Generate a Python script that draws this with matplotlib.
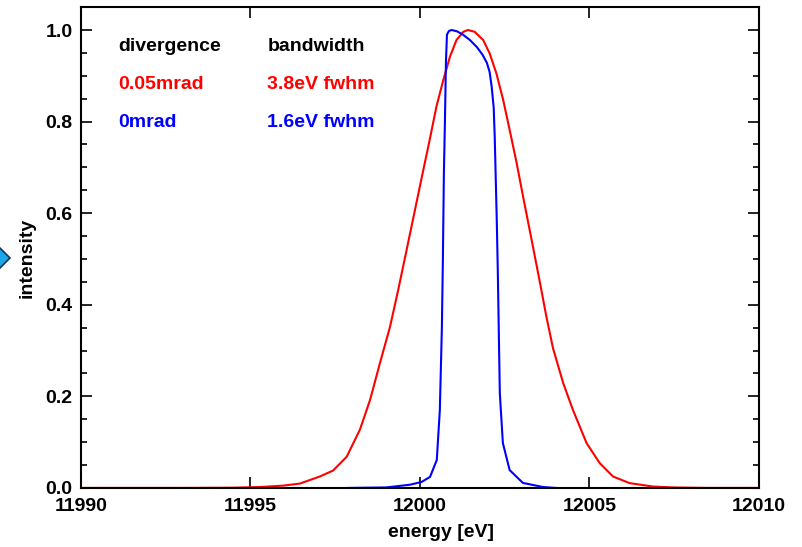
import matplotlib.pyplot as plt
from matplotlib.patches import Polygon
from matplotlib.ticker import MultipleLocator

plt.rcParams['font.family'] = ['Liberation Sans', 'DejaVu Sans']
plt.rcParams['font.weight'] = 'bold'

# red: 0.05 mrad divergence, 3.8 eV fwhm
red_e = [11990.0, 11993.0, 11994.5, 11995.3, 11995.96, 11996.46, 11997.05, 11997.44,
         11997.84, 11998.23, 11998.53, 11998.82, 11999.12, 11999.36, 11999.61,
         11999.85, 12000.09, 12000.29, 12000.49, 12000.69, 12000.89, 12001.08,
         12001.28, 12001.42, 12001.62, 12001.87, 12002.06, 12002.26, 12002.46,
         12002.65, 12002.85, 12003.05, 12003.29, 12003.54, 12003.74, 12003.93,
         12004.23, 12004.52, 12004.92, 12005.31, 12005.70, 12006.19, 12006.88,
         12007.5, 12008.5, 12010.0]
red_i = [0.0, 0.0, 0.0005, 0.002, 0.005, 0.0095, 0.025, 0.038,
         0.068, 0.127, 0.192, 0.272, 0.352, 0.432, 0.520,
         0.605, 0.690, 0.760, 0.833, 0.890, 0.942, 0.978,
         0.996, 1.000, 0.996, 0.978, 0.949, 0.905, 0.847,
         0.782, 0.712, 0.635, 0.545, 0.450, 0.372, 0.305,
         0.229, 0.170, 0.098, 0.054, 0.025, 0.0105, 0.003,
         0.001, 0.0, 0.0]

# blue: 0 mrad divergence, 1.6 eV fwhm
blue_e = [11997.9, 11999.0, 11999.71, 12000.05, 12000.30, 12000.50, 12000.59, 12000.65,
          12000.68, 12000.71, 12000.74, 12000.77, 12000.80, 12000.86, 12000.94, 12001.10,
          12001.27, 12001.48, 12001.68, 12001.85, 12001.98, 12002.06, 12002.12, 12002.18,
          12002.21, 12002.27, 12002.30, 12002.36, 12002.45, 12002.65, 12003.04, 12003.63,
          12004.0]
blue_i = [0.0, 0.001, 0.007, 0.013, 0.024, 0.061, 0.170, 0.350,
          0.500, 0.690, 0.800, 0.930, 0.990, 0.998, 1.000, 0.997,
          0.990, 0.978, 0.963, 0.946, 0.928, 0.908, 0.876, 0.830,
          0.766, 0.585, 0.476, 0.207, 0.098, 0.039, 0.011, 0.002,
          0.0]

fig = plt.figure(figsize=(8.02, 5.47), dpi=100)
ax = fig.add_axes([0.101, 0.108, 0.845, 0.879])

ax.plot(red_e, red_i, color='#ff0000', lw=1.5)
ax.plot(blue_e, blue_i, color='#0000ff', lw=1.5)

ax.set_xlim(11990, 12010)
ax.set_ylim(0, 1.05)
ax.xaxis.set_major_locator(MultipleLocator(5))
ax.yaxis.set_major_locator(MultipleLocator(0.2))
ax.yaxis.set_minor_locator(MultipleLocator(0.05))
ax.yaxis.set_major_formatter(plt.FuncFormatter(lambda v, p: f"{v:.1f}"))
ax.xaxis.set_major_formatter(plt.FuncFormatter(lambda v, p: f"{v:.0f}"))
ax.tick_params(which='both', direction='in', top=True, right=True, labelsize=14, width=1.2)
ax.tick_params(which='major', length=8, pad=7)
ax.tick_params(axis='y', which='major', pad=6)
ax.tick_params(which='minor', length=4)
for s in ax.spines.values():
    s.set_linewidth(1.5)

ax.set_xlabel('energy [eV]', fontsize=14, fontweight='bold', labelpad=7, x=0.531)
ax.set_ylabel('intensity', fontsize=14, fontweight='bold', labelpad=7, y=0.478)

fs = 14
ax.text(11991.1, 0.963, 'divergence', fontsize=fs, color='black', va='center')
ax.text(11995.5, 0.963, 'bandwidth', fontsize=fs, color='black', va='center')
ax.text(11991.1, 0.88, '0.05mrad', fontsize=fs, color='#ff0000', va='center')
ax.text(11995.5, 0.88, '3.8eV fwhm', fontsize=fs, color='#ff0000', va='center')
ax.text(11991.1, 0.797, '0mrad', fontsize=fs, color='#0000ff', va='center')
ax.text(11995.5, 0.797, '1.6eV fwhm', fontsize=fs, color='#0000ff', va='center')

# slide arrow artifact at the left edge
W, H = 802, 547
pts = [(-10 / W, (H - 258) / H), (0, (H - 248) / H), (10 / W, (H - 258) / H), (0, (H - 268) / H)]
fig.patches.append(Polygon(pts, closed=True, transform=fig.transFigure,
                           facecolor='#1ea6e6', edgecolor='#14365a', lw=1.2))

fig.savefig('out.png', dpi=100)
